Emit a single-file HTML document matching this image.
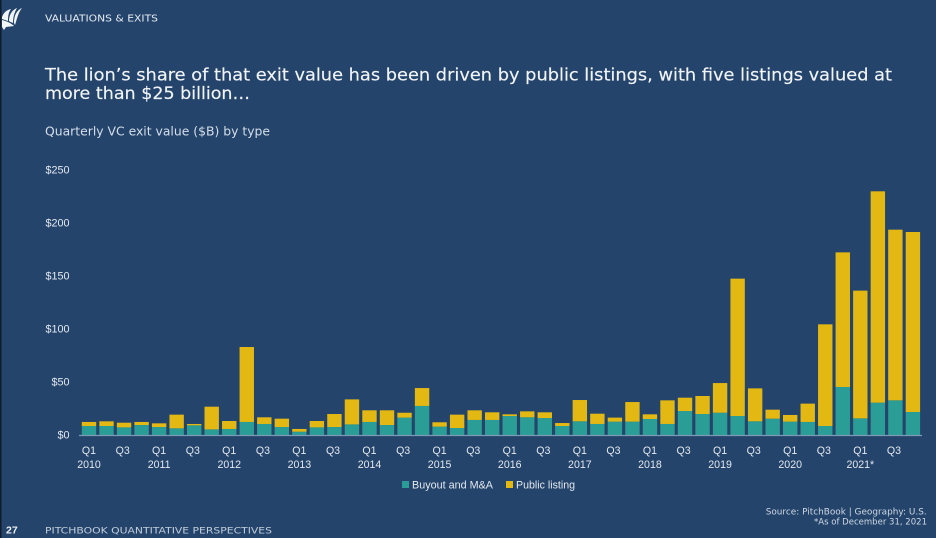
<!DOCTYPE html>
<html lang="en">
<head>
<meta charset="utf-8">
<title>Quarterly VC exit value by type</title>
<style>
html,body{margin:0;padding:0;background:#24446c;}
body{width:936px;height:538px;overflow:hidden;position:relative;}
svg{position:absolute;left:0;top:0;display:block;}
text{font-family:"Liberation Sans",sans-serif;}
text.wide{font-family:"DejaVu Sans",sans-serif;}
</style>
</head>
<body>
<svg id="chart" width="936" height="538" viewBox="0 0 936 538">
  <rect x="0" y="0" width="936" height="538" fill="#24446c"/>
  <rect x="0" y="0" width="1.5" height="538" fill="#101c2c"/>
  <g fill="#f2f5f8">
    <path d="M2 17 C4 12 7 10 11 9 C8 13 8 18 8 21 L2 19 Z"/>
    <path d="M9 21 C9 15 12 10 17 8 C14 13 13 18 13 23 C11 22 10 22 9 21 Z"/>
    <path d="M14 23 C14 15 17 10 22 8 C18 13 17 19 15 25 Z"/>
    <path d="M2 20 C6 21 11 23 14 26 L6 27 L4 30 L2 27 Z"/>
  </g>
  <text class="wide" x="45" y="21.7" font-size="9.6" fill="#e6ebf1" textLength="113" lengthAdjust="spacingAndGlyphs">VALUATIONS &amp; EXITS</text>
  <text class="wide" x="45" y="80.5" font-size="16.5" fill="#f1f4f7" stroke="#f1f4f7" stroke-width="0.15" textLength="847" lengthAdjust="spacingAndGlyphs">The lion’s share of that exit value has been driven by public listings, with five listings valued at</text>
  <text class="wide" x="45" y="99" font-size="16.5" fill="#f1f4f7" stroke="#f1f4f7" stroke-width="0.15" textLength="205" lengthAdjust="spacingAndGlyphs">more than $25 billion…</text>
  <text class="wide" x="45" y="135.3" font-size="12" fill="#d5dee9" textLength="225" lengthAdjust="spacingAndGlyphs">Quarterly VC exit value ($B) by type</text>
  <g id="y-axis"></g>
  <g id="bars"></g>
  <line x1="79" y1="435.5" x2="922" y2="435.5" stroke="#7d9ab5" stroke-width="1.3"/>
  <g id="x-axis"></g>
  <g>
    <rect x="402" y="481" width="7" height="7" fill="#2a9d96"/>
    <text x="412" y="488.5" font-size="11" fill="#e4e9ef" textLength="81" lengthAdjust="spacingAndGlyphs">Buyout and M&amp;A</text>
    <rect x="506" y="481" width="7" height="7" fill="#e3b813"/>
    <text x="516" y="488.5" font-size="11" fill="#e4e9ef" textLength="59" lengthAdjust="spacingAndGlyphs">Public listing</text>
  </g>
  <text class="wide" x="765.7" y="514.3" font-size="9" fill="#cfd8e3" textLength="161" lengthAdjust="spacingAndGlyphs">Source: PitchBook | Geography: U.S.</text>
  <text class="wide" x="814" y="524.3" font-size="9" fill="#cfd8e3" textLength="113" lengthAdjust="spacingAndGlyphs">*As of December 31, 2021</text>
  <text x="6" y="533.3" font-size="10.5" font-weight="bold" fill="#eef2f6">27</text>
  <text class="wide" x="45" y="533.3" font-size="9.2" fill="#c3cedb" textLength="227" lengthAdjust="spacingAndGlyphs">PITCHBOOK QUANTITATIVE PERSPECTIVES</text>
</svg>
<script>
const quarters = [
  "Q1 2010","Q2 2010","Q3 2010","Q4 2010","Q1 2011","Q2 2011","Q3 2011","Q4 2011",
  "Q1 2012","Q2 2012","Q3 2012","Q4 2012","Q1 2013","Q2 2013","Q3 2013","Q4 2013",
  "Q1 2014","Q2 2014","Q3 2014","Q4 2014","Q1 2015","Q2 2015","Q3 2015","Q4 2015",
  "Q1 2016","Q2 2016","Q3 2016","Q4 2016","Q1 2017","Q2 2017","Q3 2017","Q4 2017",
  "Q1 2018","Q2 2018","Q3 2018","Q4 2018","Q1 2019","Q2 2019","Q3 2019","Q4 2019",
  "Q1 2020","Q2 2020","Q3 2020","Q4 2020","Q1 2021","Q2 2021","Q3 2021","Q4 2021"
];
const buyoutValues = [
  8.5,8.5,7.2,9.4,7.5,6.3,9.1,5.3,
  5.7,12.3,10.4,7.5,3.1,7.2,7.5,10,
  12.3,9.4,16.4,27.4,7.9,6.6,14.2,14.2,
  17.9,16.7,16,8.5,12.9,10.4,12.6,12.6,
  15.1,10.4,22.6,19.8,21,17.9,12.9,15.4,
  12.6,12.3,8.5,45.3,15.7,30.5,32.7,21.7
];
const publicValues = [
  3.8,4.4,4.4,2.9,3.5,12.9,1.3,21.4,
  7.5,70.7,6.3,7.9,2.6,6,12.3,23.6,
  11,13.9,4.6,16.9,4.1,12.6,9.1,7.2,
  1.6,5.6,5.4,2.8,20.1,9.7,3.8,18.5,
  4.4,22.3,12.6,17,28,129.6,31.1,8.5,
  6.3,17.3,95.9,127,120.5,199.4,161,169.8
];
const yTicks = [0,50,100,150,200,250];
const yTickLabels = ["$0","$50","$100","$150","$200","$250"];
const quarterTickLabels = [
  "Q1","Q3","Q1","Q3","Q1","Q3","Q1","Q3","Q1","Q3","Q1","Q3",
  "Q1","Q3","Q1","Q3","Q1","Q3","Q1","Q3","Q1","Q3","Q1","Q3"
];
const yearTickLabels = ["2010","2011","2012","2013","2014","2015","2016","2017","2018","2019","2020","2021*"];

const SVG_NS = "http://www.w3.org/2000/svg";
const BASE_Y = 435, PX_PER_UNIT = 1.06, FIRST_X = 89, STEP_X = 17.53, BAR_W = 14.4;
function xScale(i){ return FIRST_X + i * STEP_X; }
function yScale(v){ return BASE_Y - v * PX_PER_UNIT; }

const barsGroup = document.getElementById("bars");
const xGroup = document.getElementById("x-axis");
const yGroup = document.getElementById("y-axis");

function addText(parent, x, y, str, anchor, size, fill){
  const t = document.createElementNS(SVG_NS, "text");
  t.setAttribute("x", x);
  t.setAttribute("y", y);
  t.setAttribute("text-anchor", anchor);
  t.setAttribute("font-size", size);
  t.setAttribute("fill", fill);
  t.textContent = str;
  parent.appendChild(t);
  return t;
}

yTicks.forEach(function(v, i){
  const t = addText(yGroup, 69.5, yScale(v) + 3.6, yTickLabels[i], "end", 10.8, "#e4e9ef");
  
  
});

quarters.forEach(function(q, i){
  const b = buyoutValues[i], p = publicValues[i];
  const rectB = document.createElementNS(SVG_NS, "rect");
  rectB.setAttribute("x", xScale(i) - BAR_W / 2);
  rectB.setAttribute("y", yScale(b));
  rectB.setAttribute("width", BAR_W);
  rectB.setAttribute("height", yScale(0) - yScale(b));
  rectB.setAttribute("fill", "#2a9d96");
  
  
  barsGroup.appendChild(rectB);
  const rectP = document.createElementNS(SVG_NS, "rect");
  rectP.setAttribute("x", xScale(i) - BAR_W / 2);
  rectP.setAttribute("y", yScale(b + p));
  rectP.setAttribute("width", BAR_W);
  rectP.setAttribute("height", yScale(b) - yScale(b + p));
  rectP.setAttribute("fill", "#e3b813");
  
  
  barsGroup.appendChild(rectP);
});

quarterTickLabels.forEach(function(label, i){
  const offset = label === "Q3" ? -1.4 : 0;
  const t = addText(xGroup, xScale(i * 2) + offset, 453.8, label, "middle", 10.6, "#e4e9ef");
  
  
});
yearTickLabels.forEach(function(label, i){
  const t = addText(xGroup, xScale(i * 4), 468.1, label, "middle", 10.6, "#e4e9ef");
  
  
});
</script>
</body>
</html>
